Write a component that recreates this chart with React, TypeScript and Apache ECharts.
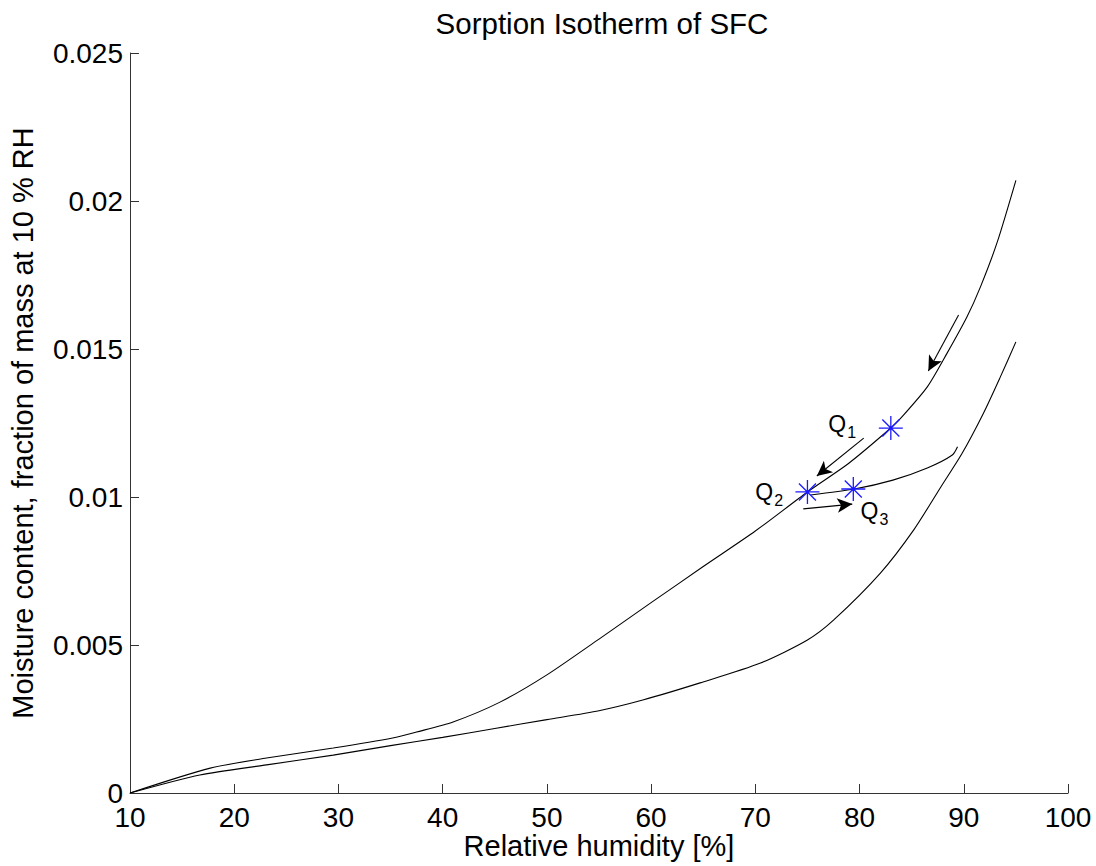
import React, { useEffect, useRef } from "react";
import * as echarts from "echarts";

// Desorption (upper) isotherm
const desorpX = [10, 17.7, 23.1, 29.5, 35.2, 37.5, 41.0, 45.5, 50.0, 55.0, 60.0, 65.0, 70.0, 75.0, 79.0, 83.0, 84.0, 86.5, 88.4, 90.3, 91.6, 93.2, 95.0];
const desorpY = [0, 0.00084, 0.00118, 0.00152, 0.00186, 0.00206, 0.0024, 0.00307, 0.00399, 0.0052, 0.00643, 0.00765, 0.00885, 0.01017, 0.01115, 0.01233, 0.01268, 0.01372, 0.01486, 0.01608, 0.0171, 0.0186, 0.0207];

// Adsorption (lower) isotherm
const adsorpX = [10, 16.7, 23.1, 29.5, 35.0, 40.0, 45.0, 50.0, 55.0, 59.2, 64.7, 70.5, 75.0, 77.5, 82.0, 85.2, 87.8, 89.8, 91.9, 93.5, 95.0];
const adsorpY = [0, 0.00061, 0.00095, 0.00128, 0.0016, 0.00188, 0.00218, 0.00248, 0.00278, 0.00314, 0.00372, 0.00439, 0.00517, 0.00584, 0.00743, 0.00889, 0.01034, 0.01145, 0.01284, 0.01405, 0.01524];

// Scanning curve from Q2
const scanX = [75.3, 79.5, 83.2, 86.5, 88.9, 89.4];
const scanY = [0.01007, 0.01027, 0.01057, 0.01098, 0.01142, 0.0117];

// Marked states Q1, Q2, Q3
const qX = [83.0, 75.0, 79.4];
const qY = [0.01233, 0.01017, 0.01027];
const qSub = ["1", "2", "3"];
const qLabelX = [77.0, 70.0, 80.1];
const qLabelY = [0.01247, 0.01017, 0.00953];

// Arrows: [x1, y1, x2, y2] (tail -> head)
const arrows = [
  [89.5, 0.01615, 86.6, 0.01426],
  [80.4, 0.01199, 75.9, 0.01071],
  [74.6, 0.0096, 79.3, 0.00976],
];

const xTicks = { min: 10, max: 100, interval: 10 };
const yTicks = { min: 0, max: 0.025, interval: 0.005 };

const FONT = "'Liberation Sans', Arial, Helvetica, sans-serif";

const zip = (xs: number[], ys: number[]) => xs.map((x, i) => [x, ys[i]]);

export default function App() {
  const ref = useRef<HTMLDivElement>(null);
  useEffect(() => {
    document.body.style.margin = "0";
    if (!ref.current) return;
    const chart = echarts.init(ref.current, undefined, { renderer: "svg" });
    const axisCommon = {
      axisLine: { show: true, onZero: false, lineStyle: { color: "#333", width: 1 } },
      axisTick: { show: true, inside: true, length: 9, lineStyle: { color: "#333" } },
      splitLine: { show: false },
      nameMoveOverlap: false,
      nameTextStyle: { color: "#000", fontSize: 29, fontFamily: FONT },
    };
    const lineStyle = { color: "#000", width: 1.1 };
    chart.setOption({
      animation: false,
      backgroundColor: "#fff",
      title: {
        text: "Sorption Isotherm of SFC",
        left: 597,
        top: 3,
        textAlign: "center",
        textStyle: { color: "#000", fontSize: 29.5, fontWeight: "normal", fontFamily: FONT },
      },
      grid: { left: 130, right: 28, top: 53, bottom: 73, containLabel: false, outerBoundsMode: "none" },
      xAxis: {
        type: "value",
        ...xTicks,
        ...axisCommon,
        name: "Relative humidity [%]",
        nameLocation: "middle",
        nameGap: 38,
        axisLabel: { color: "#000", fontSize: 28, fontFamily: FONT, margin: 10 },
      },
      yAxis: {
        type: "value",
        ...yTicks,
        ...axisCommon,
        name: "Moisture content, fraction of mass at 10 % RH",
        nameLocation: "middle",
        nameGap: 93,
        axisLabel: { color: "#000", fontSize: 28, fontFamily: FONT, margin: 7 },
      },
      series: [
        {
          type: "line",
          data: zip(desorpX, desorpY),
          showSymbol: false,
          smooth: 0.25,
          lineStyle,
          silent: true,
          markLine: {
            silent: true,
            symbol: ["none", "arrow"],
            symbolSize: [11, 15],
            label: { show: false },
            lineStyle: { color: "#000", width: 1.1, type: "solid" },
            data: arrows.map((a) => [{ coord: [a[0], a[1]] }, { coord: [a[2], a[3]] }]),
          },
        },
        {
          type: "line",
          data: zip(adsorpX, adsorpY),
          showSymbol: false,
          smooth: 0.25,
          lineStyle,
          silent: true,
        },
        {
          type: "line",
          data: zip(scanX, scanY),
          showSymbol: false,
          smooth: 0.25,
          lineStyle,
          silent: true,
        },
        {
          type: "scatter",
          data: zip(qX, qY),
          symbol: "path://M0,12L24,12M12,0L12,24M3.5,3.5L20.5,20.5M20.5,3.5L3.5,20.5",
          symbolSize: 24,
          itemStyle: { color: "transparent", borderColor: "#1a1aff", borderWidth: 1.3, opacity: 1 },
          silent: true,
          z: 5,
        },
      ],
    });
    const graphics: any[] = [];
    qLabelX.forEach((x, i) => {
      const p = chart.convertToPixel({ gridIndex: 0 }, [x, qLabelY[i]]) as number[];
      graphics.push({
        type: "text",
        x: p[0],
        y: p[1],
        style: {
          text: "Q",
          fill: "#000",
          fontSize: 23,
          fontFamily: FONT,
          align: "left",
          verticalAlign: "middle",
          textAlign: "left",
          textVerticalAlign: "middle",
        },
      });
      graphics.push({
        type: "text",
        x: p[0] + 19,
        y: p[1] + 9,
        style: {
          text: qSub[i],
          fill: "#000",
          fontSize: 16,
          fontFamily: FONT,
          align: "left",
          verticalAlign: "middle",
          textAlign: "left",
          textVerticalAlign: "middle",
        },
      });
    });
    chart.setOption({ graphic: graphics });
    return () => chart.dispose();
  }, []);
  return <div ref={ref} style={{ width: 1096, height: 866 }} />;
}
